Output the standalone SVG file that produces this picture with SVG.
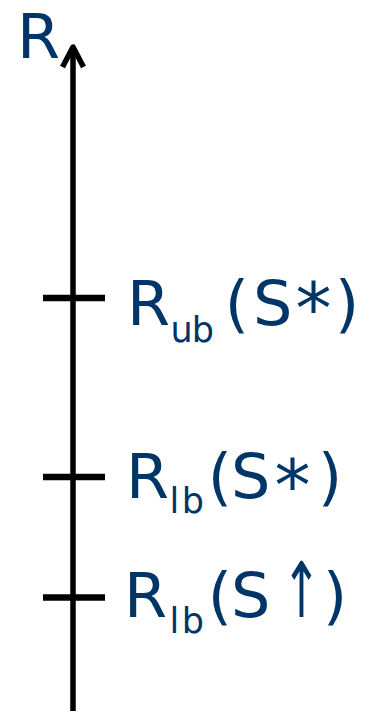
<svg xmlns="http://www.w3.org/2000/svg" width="374" height="711" viewBox="0 0 374 711">
<style>
.lbl{font-family:"DejaVu Sans","Liberation Sans",sans-serif;fill:#003567;font-size:62px}
.sub{font-size:35px}
.ast{font-size:72px;text-anchor:middle}
.arr{text-anchor:middle}
.ax{stroke:#000;stroke-width:5.5;fill:none;stroke-linecap:butt}
.tick{stroke:#000;stroke-width:6.5;fill:none}
</style>
<rect width="374" height="711" fill="#fff"/>
<g id="connectors">
<line class="ax" x1="73" y1="711" x2="73" y2="48"/>
<polyline class="ax" points="62.5,67 73,47 83.5,67" stroke-linecap="round" stroke-linejoin="round"/>
</g>
<g id="axis-label"><text class="lbl" x="17" y="58">R</text></g>
<g id="tick-ub">
<line class="tick" x1="43" y1="298" x2="105" y2="298"/>
<text class="lbl" y="325"><tspan x="127">R</tspan><tspan class="sub" x="170.5" y="342" letter-spacing="-1">ub</tspan><tspan x="224.7" y="325">(</tspan><tspan x="253">S</tspan></text>
<text class="lbl ast" x="313.5" y="333">*</text>
<text class="lbl" x="335" y="325">)</text>
</g>
<g id="tick-lb-star">
<line class="tick" x1="43" y1="477" x2="105" y2="477"/>
<text class="lbl" y="498"><tspan x="126">R</tspan><tspan class="sub" x="169.6" y="513">l</tspan><tspan class="sub" x="181.7" y="513">b</tspan><tspan x="207.7" y="498">(</tspan><tspan x="231">S</tspan></text>
<text class="lbl ast" x="292.5" y="510">*</text>
<text class="lbl" x="318" y="498">)</text>
</g>
<g id="tick-lb-up">
<line class="tick" x1="43" y1="597.5" x2="105" y2="597.5"/>
<text class="lbl" y="617"><tspan x="124">R</tspan><tspan class="sub" x="169.6" y="633">l</tspan><tspan class="sub" x="181.7" y="633">b</tspan><tspan x="207.7" y="617">(</tspan><tspan x="231">S</tspan></text>
<text class="lbl arr" transform="translate(301.5 617) scale(0.75 1.24)">↑</text>
<text class="lbl" x="323" y="617">)</text>
</g>
</svg>
